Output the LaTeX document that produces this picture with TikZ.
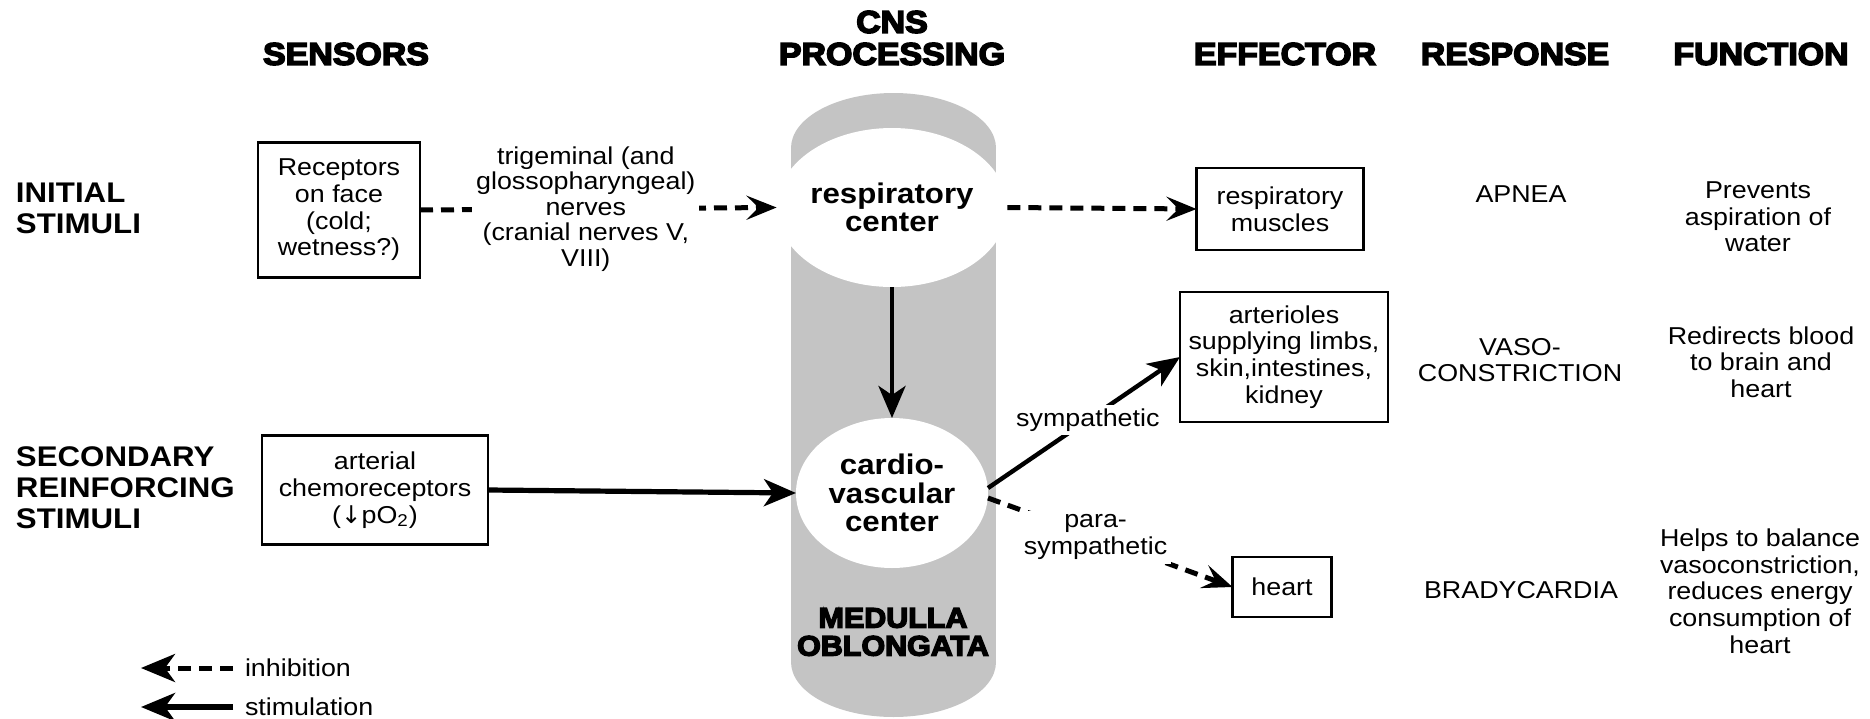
\documentclass[tikz,border=0pt]{standalone}
\usepackage{fontspec}
\setmainfont{Liberation Sans}[FakeStretch=1.1]
\newfontfamily\heavyfont{Liberation Sans Bold}[FakeStretch=1.08,FakeBold=5]
\newfontfamily\symfont{DejaVu Sans}
\usetikzlibrary{arrows.meta,shapes.geometric}
\definecolor{pillgray}{RGB}{196,196,196}
\begin{document}
\begin{tikzpicture}[x=0.5pt,y=-0.5pt,
  every node/.style={inner sep=0pt, outer sep=0pt},
  head/.style={font=\heavyfont\fontsize{15.7}{16}\selectfont, align=center},
  rowlab/.style={font=\bfseries\fontsize{14.2}{15.5}\selectfont, align=left, anchor=west},
  body/.style={font=\fontsize{12.2}{13.35}\selectfont, align=center},
  box/.style={body, draw, line width=1.1pt},
  cnsnode/.style={ellipse, fill=white, font=\bfseries\fontsize{14.2}{14.15}\selectfont, align=center, inner sep=0pt},
  lbl/.style={body, fill=white, inner sep=2pt},
  stim/.style={line width=2.3pt, -{Stealth[length=16pt,width=13.5pt,inset=4.5pt]}},
  inh/.style={line width=2.5pt, dash pattern=on 6.5pt off 4pt, -{Stealth[length=15pt,width=12pt,inset=6pt]}},
  legarr/.style={-{Stealth[length=17pt,width=14pt,inset=5pt]}},
]
\useasboundingbox (0,0) rectangle (1870,718);
% medulla background
\fill[pillgray] (791,148) rectangle (996,662);
\fill[pillgray] (893.5,148) ellipse [x radius=102.5, y radius=55];
\fill[pillgray] (893.5,662) ellipse [x radius=102.5, y radius=55];

% headers
\node[head] (hsens) at (346,54) {SENSORS};
\node[head] (hcns) at (892,38) {CNS\\PROCESSING};
\node[head] (heff) at (1285,54) {EFFECTOR};
\node[head] (hresp) at (1515,54) {RESPONSE};
\node[head] (hfun) at (1761,54) {FUNCTION};

% row labels
\node[rowlab] (rinit) at (16,208) {INITIAL\\STIMULI};
\node[rowlab] (rsec) at (16,488) {SECONDARY\\REINFORCING\\STIMULI};

% boxes
\node[box, minimum width=81pt, minimum height=67.5pt] (rec) at (339,210) {Receptors\\on face\\(cold;\\wetness?)};
\node[box, minimum width=113pt, minimum height=54.5pt] (art) at (375,490) {arterial\\chemoreceptors\\({\symfont ↓}pO\textsubscript{2})};
\node[box, minimum width=83.5pt, minimum height=41pt] (musc) at (1280,209) {respiratory\\muscles};
\node[box, minimum width=104pt, minimum height=65pt] (artl) at (1284,357) {arterioles\\supplying limbs,\\skin,intestines,\\kidney};
\node[box, minimum width=49.5pt, minimum height=30pt] (heart) at (1282,587) {heart};

% CNS centres
\node[cnsnode, minimum width=96pt, minimum height=79.5pt] (resp) at (892,207.5) {respiratory\\center};
\node[cnsnode, minimum width=96pt, minimum height=75pt] (cardio) at (892,493) {cardio-\\vascular\\center};
\node[font=\heavyfont\fontsize{14.1}{14}\selectfont, align=center] (med) at (893,632) {MEDULLA\\OBLONGATA};

% responses
\node[body] (apnea) at (1521,194) {APNEA};
\node[body] (vaso) at (1520,360) {VASO-\\CONSTRICTION};
\node[body] (brady) at (1521,590) {BRADYCARDIA};

% functions
\node[body] (f1) at (1758,217) {Prevents\\aspiration of\\water};
\node[body] (f2) at (1761,362) {Redirects blood\\to brain and\\heart};
\node[body] (f3) at (1760,591) {Helps to balance\\vasoconstriction,\\reduces energy\\consumption of\\heart};

% connectors
\draw[inh] (rec.east) -- node[lbl, pos=0.465, font=\fontsize{12.2}{12.75}\selectfont] (trig) {trigeminal (and\\glossopharyngeal)\\nerves\\(cranial nerves V,\\VIII)} (resp.west);
\draw[inh] (resp.east) -- (musc.west);
\draw[stim] (resp.south) -- (cardio.north);
\draw[stim, line width=2.6pt] (art.east) -- (cardio.west);
\draw[stim, line width=2.2pt] ([yshift=2.5pt]cardio.east) -- node[lbl, pos=0.52] (symp) {sympathetic} (artl.west);
\draw[inh] ([yshift=-2.5pt]cardio.east) -- node[lbl, pos=0.44] (para) {para-\\sympathetic} (heart.west);

% legend
\node[body, anchor=west] (inhT) at (245,668) {inhibition};
\node[body, anchor=west] (stT) at (245,707) {stimulation};
\coordinate (inhB) at (141,668);
\coordinate (stB) at (141,707);
\draw[inh, legarr] ([xshift=-6pt]inhT.west) -- (inhB);
\draw[stim, legarr, line width=2.8pt] ([xshift=-6pt]stT.west) -- (stB);
\end{tikzpicture}
\end{document}
